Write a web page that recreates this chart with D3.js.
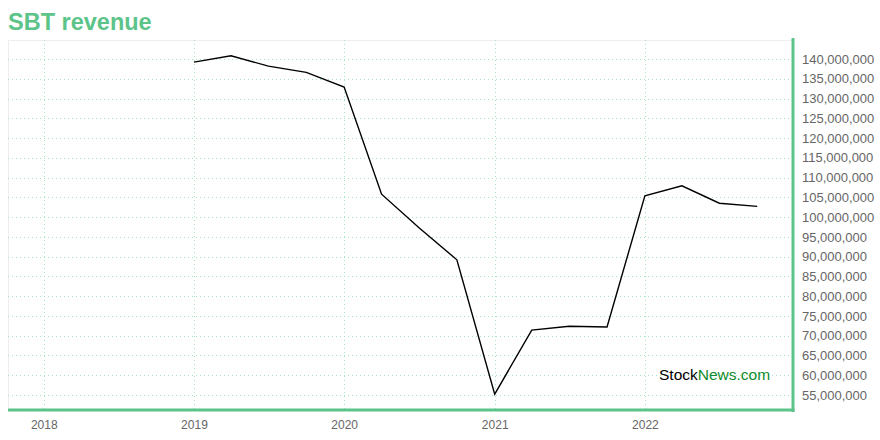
<!DOCTYPE html>
<html><head><meta charset="utf-8">
<script src="https://cdn.jsdelivr.net/npm/d3@7"></script>
<style>body{margin:0;background:#fff;font-family:"Helvetica Neue",Helvetica,Arial,"Liberation Sans",sans-serif;}</style>
</head><body>
<svg id="chart" width="880" height="440"></svg>
<script>
const title = "SBT revenue";
const dates = ["2019-01-01","2019-04-01","2019-07-01","2019-10-01","2020-01-01","2020-04-01","2020-07-01","2020-10-01","2021-01-01","2021-04-01","2021-07-01","2021-10-01","2022-01-01","2022-04-01","2022-07-01","2022-10-01"];
const revenue = [139200000,140800000,138200000,136600000,132900000,105800000,97300000,89200000,55200000,71400000,72400000,72200000,105400000,107900000,103500000,102700000];
const yTicks = [55e6,60e6,65e6,70e6,75e6,80e6,85e6,90e6,95e6,100e6,105e6,110e6,115e6,120e6,125e6,130e6,135e6,140e6];
const xTickYears = ["2018","2019","2020","2021","2022"];

const green = "#5cc489";
const svg = d3.select("#chart");
const pL = 8, pR = 793, pT = 40, pB = 410;
const parse = d3.timeParse("%Y-%m-%d");
const x = d3.scaleTime().domain([parse("2017-10-06"), parse("2022-12-27")]).range([pL, pR]);
const y = d3.scaleLinear().domain([51.2e6, 144.8e6]).range([pB, pT]);
const data = dates.map((d,i)=>({date:parse(d), v:revenue[i]}));

// frame top/left
svg.append("line").attr("x1",pL).attr("x2",pR).attr("y1",pT+0.5).attr("y2",pT+0.5).attr("stroke","#eee");
svg.append("line").attr("x1",pL+0.5).attr("x2",pL+0.5).attr("y1",pT).attr("y2",pB).attr("stroke","#eee");

// grid
const grid = svg.append("g").attr("stroke","#a6e4c1").attr("stroke-dasharray","1,3").attr("stroke-width",1);
yTicks.forEach(t=>grid.append("line").attr("x1",pL).attr("x2",pR).attr("y1",Math.round(y(t))+0.5).attr("y2",Math.round(y(t))+0.5));
xTickYears.forEach(t=>{const xx=Math.round(x(parse(t+"-01-01")))+0.5;grid.append("line").attr("x1",xx).attr("x2",xx).attr("y1",pT).attr("y2",pB);});

// line
svg.append("path").datum(data).attr("fill","none").attr("stroke","#000").attr("stroke-width",1.4)
  .attr("d", d3.line().x(d=>x(d.date)).y(d=>y(d.v)));

// axes
const yAxis = d3.axisRight(y).tickValues(yTicks).tickSize(0).tickPadding(9).tickFormat(d3.format(","));
const gy = svg.append("g").attr("transform",`translate(${pR},0)`).call(yAxis);
gy.select(".domain").remove();
gy.selectAll("text").attr("fill","#666").style("font-size","13px").style("font-family","Helvetica, Arial, 'Liberation Sans', sans-serif");

const xAxis = d3.axisBottom(x).tickValues(xTickYears.map(t=>parse(t+"-01-01"))).tickSize(0).tickPadding(10).tickFormat(d3.timeFormat("%Y"));
const gx = svg.append("g").attr("transform",`translate(0,${pB})`).call(xAxis);
gx.select(".domain").remove();
gx.selectAll("text").attr("fill","#666").style("font-size","12px").style("font-family","Helvetica, Arial, 'Liberation Sans', sans-serif");

// green borders
svg.append("line").attr("x1",pR).attr("x2",pR).attr("y1",pT-2).attr("y2",pB+2).attr("stroke",green).attr("stroke-width",3);
svg.append("line").attr("x1",pL).attr("x2",pR+1.5).attr("y1",pB).attr("y2",pB).attr("stroke",green).attr("stroke-width",3);

// title
svg.append("text").attr("x",8).attr("y",30).text(title).attr("fill",green)
  .style("font-size","23.5px").style("font-weight","bold").style("font-family","Helvetica, Arial, 'Liberation Sans', sans-serif");

// watermark
const wm = svg.append("text").attr("x",659).attr("y",380).style("font-size","15.5px").style("font-family","Helvetica, Arial, 'Liberation Sans', sans-serif");
wm.append("tspan").text("Stock").attr("fill","#000");
wm.append("tspan").text("News.com").attr("fill","#108a2c");
</script>
</body></html>
